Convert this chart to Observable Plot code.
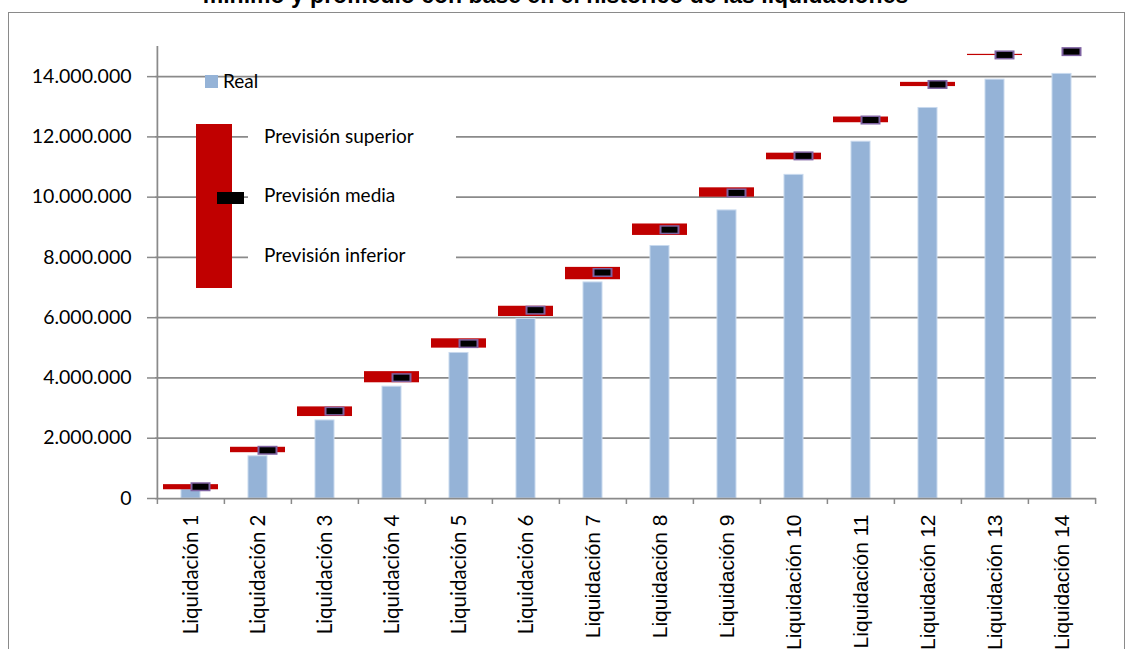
<!DOCTYPE html>
<html>
<head>
<meta charset="utf-8">
<script src="https://cdn.jsdelivr.net/npm/d3@7"></script>
<script src="https://cdn.jsdelivr.net/npm/@observablehq/plot@0.6"></script>
<style>
  html, body { margin: 0; padding: 0; background: #fff; }
  #wrap { position: relative; width: 1129px; height: 649px; overflow: hidden; background: #fff; }
  #frame { position: absolute; left: 8px; top: 12px; width: 1117px; height: 700px; border: 1.5px solid #8a8a8a; box-sizing: border-box; }
  #title { position: absolute; left: 0; width: 1111px; top: -18px; text-align: center; font-family: "Liberation Sans", Arial, sans-serif; font-weight: bold; font-size: 23px; line-height: 26px; color: #000; white-space: nowrap; }
  #chart { position: absolute; left: 0; top: 0; }
  .leg { position: absolute; font-family: Lato, sans-serif; font-size: 19px; color: #000; white-space: nowrap; line-height: 1; }
</style>
</head>
<body>
<div id="wrap">
  <div id="frame"></div>
  <div id="title">mínimo y promedio con base en el histórico de las liquidaciones</div>
  <div id="chart"></div>
  <!-- legend (annotation overlay) -->
  <div style="position:absolute;left:248px;top:108px;width:208px;height:172px;background:#fff;"></div>
  <div style="position:absolute;left:205px;top:75px;width:13px;height:13px;background:#95b3d7;"></div>
  <div class="leg" style="left:223px;top:71px;">Real</div>
  <div style="position:absolute;left:196px;top:124px;width:36px;height:164px;background:#c00000;"></div>
  <div style="position:absolute;left:217px;top:192px;width:27px;height:12px;background:#000;"></div>
  <div class="leg" style="left:264px;top:126px;">Previsión superior</div>
  <div class="leg" style="left:264px;top:185px;">Previsión media</div>
  <div class="leg" style="left:264px;top:245px;">Previsión inferior</div>
</div>
<script>
const categories = ["Liquidación 1","Liquidación 2","Liquidación 3","Liquidación 4","Liquidación 5","Liquidación 6","Liquidación 7","Liquidación 8","Liquidación 9","Liquidación 10","Liquidación 11","Liquidación 12","Liquidación 13","Liquidación 14"];
const real       = [300000, 1400000, 2590000, 3710000, 4830000, 5960000, 7170000, 8380000, 9560000, 10740000, 11840000, 12960000, 13900000, 14090000];
const prevSup    = [460000, 1700000, 3040000, 4210000, 5300000, 6380000, 7670000, 9110000, 10310000, 11460000, 12660000, 13810000, 14740000, 14830000];
const prevMedia  = [390000, 1600000, 2900000, 4010000, 5140000, 6250000, 7500000, 8920000, 10140000, 11370000, 12560000, 13740000, 14720000, 14830000];
const prevInf    = [290000, 1520000, 2720000, 3840000, 4990000, 6040000, 7260000, 8730000, 10000000, 11240000, 12470000, 13670000, 14700000, 14830000];
const yTicks     = [0, 2000000, 4000000, 6000000, 8000000, 10000000, 12000000, 14000000];

const W = 1129, H = 649, ml = 155, mr = 33, mt = 46, mb = 151;
const step = (W - ml - mr) / categories.length;
const fmt = d3.formatLocale({decimal: ",", thousands: ".", grouping: [3], currency: ["", ""]}).format(",d");
const data = categories.map((c, i) => ({cat: c, real: real[i], sup: prevSup[i], inf: prevInf[i], media: prevMedia[i]}));
const grey = "#8a8a8a";

const chart = Plot.plot({
  width: W, height: H,
  marginLeft: ml, marginRight: mr, marginTop: mt, marginBottom: mb,
  style: {fontFamily: "Lato, sans-serif", fontSize: "19.5px", color: "#000", background: "transparent"},
  x: {domain: categories, paddingInner: 0.72, paddingOuter: 0.36, label: null},
  y: {domain: [0, 15000000], label: null},
  marks: [
    Plot.ruleY(yTicks.slice(1), {stroke: grey, strokeWidth: 1.75}),
    Plot.barY(data, {x: "cat", y: "real", fill: "#95b3d7", stroke: "#c8d9ee", strokeWidth: 1}),
    Plot.barY(data, {x: "cat", y1: "inf", y2: "sup", fill: "#c00000", insetLeft: -18, insetRight: -18}),
    Plot.tickY(data, {x: "cat", y: "media", stroke: "#7e62a1", strokeWidth: 9, dx: 10, insetLeft: -0.5, insetRight: -0.5}),
    Plot.tickY(data, {x: "cat", y: "media", stroke: "#000", strokeWidth: 6, dx: 10, insetLeft: 1.5, insetRight: 1.5}),
    Plot.ruleY([0], {stroke: grey, strokeWidth: 1.75}),
    Plot.ruleX([categories[0]], {y1: 0, y2: 15000000, dx: -step / 2, stroke: grey, strokeWidth: 1.75}),
    Plot.ruleX(categories, {y1: 0, y2: 0, insetBottom: -6, dx: -step / 2, stroke: grey, strokeWidth: 1.5}),
    Plot.ruleX([categories[categories.length - 1]], {y1: 0, y2: 0, insetBottom: -6, dx: step / 2, stroke: grey, strokeWidth: 1.5}),
    Plot.axisY({ticks: yTicks, tickFormat: fmt, tickSize: 8, tickPadding: 16, stroke: grey, strokeWidth: 1.5}),
    Plot.axisX({tickSize: 0, tickPadding: 16, tickRotate: -90})
  ]
});
document.getElementById("chart").appendChild(chart);
// labels 1-6 are in a Calibri-like face, 7-14 in an Arial-like face in the reference
d3.select(chart).selectAll('g[aria-label="x-axis tick label"] text').each(function(d, i) {
  if (i >= 6) d3.select(this).attr("font-family", "'Liberation Sans', Arial, sans-serif").attr("font-size", "21px");
  else d3.select(this).attr("font-size", "20.5px");
});
</script>
</body>
</html>
